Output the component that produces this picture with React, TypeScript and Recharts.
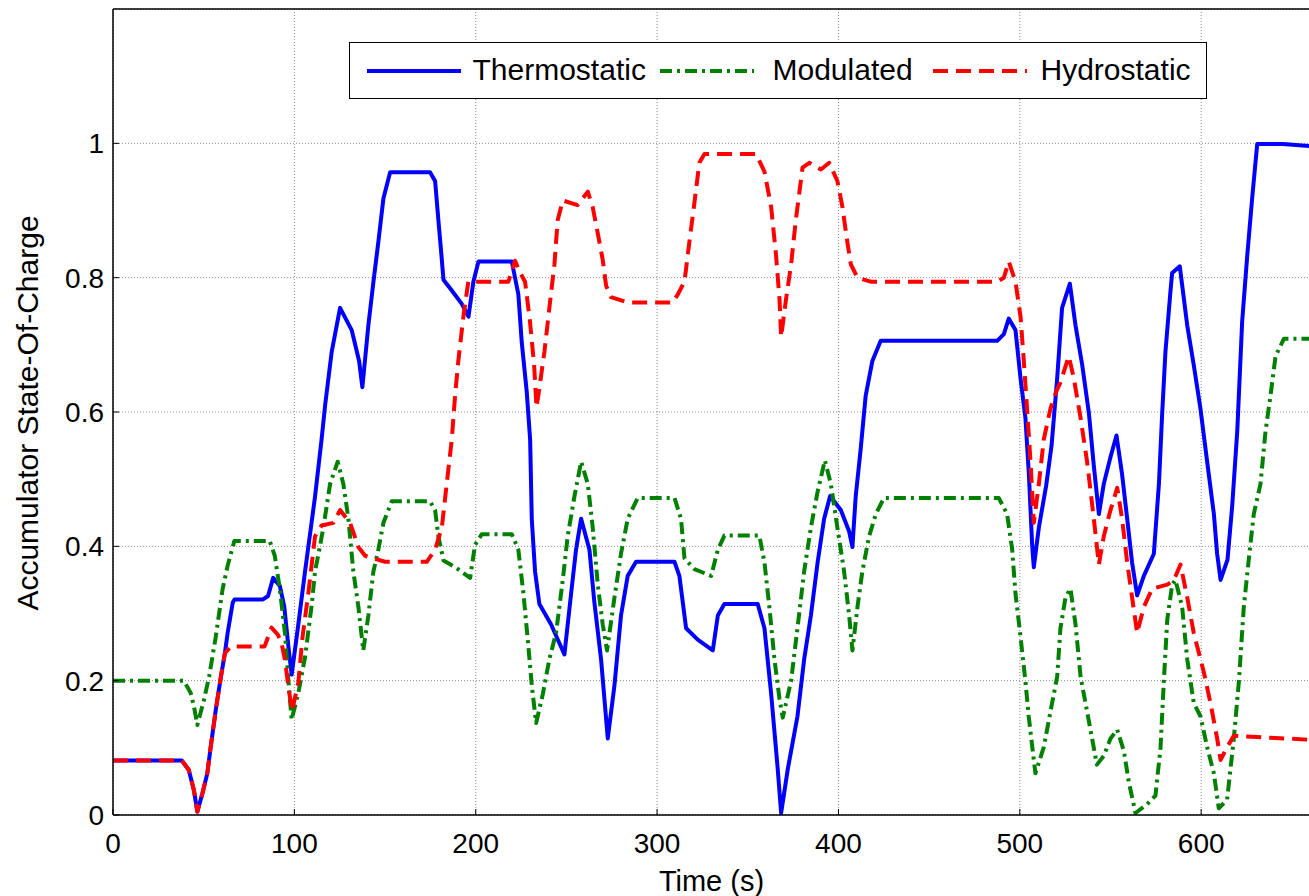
import React from "react";
import {
  LineChart,
  Line,
  XAxis,
  YAxis,
  CartesianGrid,
} from "recharts";

// time (s), accumulator state-of-charge
const thermostatic: [number, number][] = [
  [0, 0.081], [38, 0.081], [41.8, 0.067], [44.6, 0.037], [46.5, 0.005], [49.3, 0.032],
  [52, 0.062], [53.9, 0.102], [56.7, 0.157], [59.5, 0.206], [61.7, 0.241], [63.2, 0.271],
  [66, 0.316], [67, 0.321], [82.7, 0.321], [85.5, 0.326], [88.3, 0.353], [92, 0.341],
  [94.4, 0.311], [96.7, 0.251], [98.5, 0.209], [102, 0.28], [105.9, 0.363], [111.4, 0.474],
  [115, 0.559], [117, 0.611], [120.6, 0.69], [125.2, 0.755], [131.6, 0.722], [135.7, 0.676],
  [137.5, 0.637], [140.8, 0.729], [143.6, 0.794], [146.3, 0.853], [149.1, 0.918], [152.8, 0.957],
  [174.8, 0.957], [177.6, 0.944], [179.4, 0.886], [181.3, 0.827], [182.2, 0.797], [186.8, 0.781],
  [192.3, 0.761], [196, 0.742], [198.7, 0.794], [201.5, 0.824], [219.9, 0.824], [223.5, 0.775],
  [225.4, 0.703], [228.1, 0.631], [230, 0.559], [230.9, 0.441], [232.7, 0.363], [235.1, 0.314],
  [241.5, 0.284], [248.9, 0.239], [252.6, 0.33], [255.3, 0.395], [258.1, 0.441], [262.7, 0.395],
  [265.4, 0.317], [269.1, 0.232], [272.8, 0.114], [276.5, 0.193], [280.1, 0.297], [283.8, 0.356],
  [288.4, 0.377], [309.6, 0.377], [312.3, 0.356], [316, 0.278], [322.4, 0.261], [330.7, 0.245],
  [333.5, 0.297], [337.1, 0.314], [355.5, 0.314], [359.2, 0.278], [362.9, 0.18], [366.5, 0.069],
  [368.4, 0.003], [372.1, 0.069], [377.4, 0.147], [381.1, 0.232], [384.8, 0.297], [388.5, 0.376],
  [392.1, 0.441], [395.4, 0.475], [401.3, 0.454], [405.9, 0.422], [407.7, 0.399], [409.5, 0.474],
  [412.3, 0.546], [415, 0.624], [418.7, 0.676], [423.3, 0.706], [487.5, 0.706], [491.2, 0.716],
  [493.9, 0.739], [497.6, 0.722], [500.4, 0.65], [503.1, 0.591], [505, 0.507], [506.8, 0.402],
  [507.7, 0.369], [510.5, 0.428], [514.5, 0.49], [517.5, 0.55], [520.6, 0.65], [523.3, 0.755],
  [527.6, 0.791], [530.7, 0.729], [534.4, 0.67], [538.1, 0.598], [540.8, 0.52], [543.6, 0.448],
  [546.3, 0.493], [550, 0.533], [553.3, 0.565], [556.4, 0.507], [559.2, 0.441], [561.9, 0.376],
  [564.7, 0.327], [568.4, 0.356], [573.9, 0.389], [576.7, 0.493], [578.5, 0.598], [580.3, 0.69],
  [583.1, 0.781], [584, 0.807], [588.2, 0.817], [592.3, 0.729], [595.9, 0.67], [599.6, 0.605],
  [603.3, 0.526], [607, 0.448], [608.8, 0.389], [610.7, 0.35], [614.5, 0.38], [617.1, 0.46],
  [619.9, 0.572], [622.6, 0.735], [625.4, 0.833], [628.1, 0.918], [630.9, 0.999], [645, 0.999],
  [660, 0.996],
];

const modulated: [number, number][] = [
  [0, 0.2], [39, 0.2], [42.8, 0.182], [44.6, 0.162], [46.5, 0.134], [50.2, 0.172], [53, 0.206],
  [56.7, 0.266], [60.4, 0.336], [63.2, 0.371], [66.9, 0.408], [86.4, 0.408], [89.2, 0.386],
  [92, 0.336], [94.8, 0.271], [96.7, 0.2], [98.5, 0.142], [102.2, 0.182], [105.9, 0.235],
  [109.7, 0.316], [111.4, 0.363], [113.4, 0.39], [116, 0.428], [119.7, 0.493], [123.9, 0.526],
  [127, 0.493], [129.8, 0.441], [132.5, 0.363], [135.3, 0.31], [138, 0.245], [140.8, 0.297],
  [143.6, 0.363], [146.3, 0.395], [149.1, 0.435], [153.7, 0.467], [174.8, 0.467], [177.6, 0.454],
  [179.4, 0.415], [182.2, 0.379], [188.6, 0.369], [196.9, 0.353], [199.6, 0.402], [203.3, 0.418],
  [219.9, 0.418], [223.5, 0.395], [226.3, 0.33], [229, 0.252], [230.9, 0.193], [233.3, 0.137],
  [237, 0.18], [240.6, 0.232], [244.3, 0.271], [248, 0.35], [250.7, 0.415], [254.4, 0.474],
  [258.1, 0.526], [261.8, 0.493], [264.5, 0.428], [267.3, 0.343], [270, 0.284], [272.4, 0.245],
  [276.5, 0.324], [280.1, 0.389], [283.8, 0.441], [289.3, 0.472], [309.6, 0.472], [313.2, 0.441],
  [315.1, 0.382], [320.6, 0.366], [329.8, 0.356], [333.5, 0.395], [337.1, 0.416], [356.4, 0.416],
  [359.2, 0.376], [361.9, 0.31], [364.7, 0.232], [367.5, 0.173], [369.3, 0.145], [373.9, 0.2],
  [377.4, 0.278], [381.1, 0.363], [384.8, 0.428], [388.4, 0.48], [392.5, 0.528], [395.8, 0.493],
  [399.4, 0.428], [403.1, 0.363], [405.9, 0.297], [407.7, 0.245], [410.5, 0.31], [413.2, 0.363],
  [416.9, 0.415], [420.6, 0.448], [425.1, 0.472], [488.4, 0.472], [493, 0.448], [495.8, 0.395],
  [497.6, 0.33], [500.4, 0.265], [503.1, 0.199], [504.9, 0.147], [507.7, 0.082], [508.6, 0.062],
  [513.2, 0.101], [516.9, 0.154], [520.6, 0.206], [522.4, 0.278], [525.2, 0.324], [527.9, 0.337],
  [530.7, 0.284], [533.5, 0.206], [537.1, 0.154], [542.5, 0.075], [546.3, 0.088], [550, 0.114],
  [553.7, 0.127], [557.4, 0.095], [560.1, 0.049], [563.8, 0.003], [570.2, 0.016], [574.8, 0.029],
  [577.6, 0.101], [579.4, 0.199], [581.3, 0.291], [584, 0.343], [585.8, 0.35], [589.5, 0.31],
  [592.3, 0.232], [595.9, 0.167], [599.6, 0.147], [603.3, 0.101], [607, 0.062], [609.7, 0.01],
  [614.3, 0.023], [618, 0.114], [620.8, 0.199], [623.5, 0.31], [626.3, 0.382], [629, 0.448],
  [632.7, 0.493], [635.5, 0.572], [638.2, 0.624], [641, 0.683], [645.6, 0.709], [660, 0.709],
];

const hydrostatic: [number, number][] = [
  [0, 0.081], [38, 0.081], [41.8, 0.067], [44.6, 0.037], [46.5, 0.005], [49.3, 0.032], [52, 0.062],
  [53.9, 0.102], [56.7, 0.157], [59.5, 0.206], [61.7, 0.241], [65, 0.251], [83.6, 0.251],
  [87.4, 0.279], [91, 0.268], [93, 0.255], [94.8, 0.231], [96.7, 0.191], [98.7, 0.155],
  [102.2, 0.197], [104.5, 0.265], [107.7, 0.33], [111.4, 0.415], [115, 0.431], [121.5, 0.435],
  [125.2, 0.454], [130.7, 0.435], [135.3, 0.399], [139, 0.386], [150, 0.377], [173, 0.377],
  [177.6, 0.395], [181.3, 0.428], [184, 0.493], [186.8, 0.559], [188.6, 0.624], [190.4, 0.676],
  [193.2, 0.742], [195.9, 0.794], [218, 0.794], [221.7, 0.825], [224, 0.81], [227.2, 0.794],
  [229.9, 0.735], [232.2, 0.67], [233.5, 0.607], [234.8, 0.63], [237.9, 0.69], [240.6, 0.755],
  [243.4, 0.82], [245.2, 0.886], [248, 0.915], [256.2, 0.908], [261.8, 0.928], [264.5, 0.905],
  [267.3, 0.866], [270, 0.827], [271.9, 0.788], [274.6, 0.771], [283.8, 0.763], [308.6, 0.763],
  [311.4, 0.775], [315.1, 0.794], [317.8, 0.853], [320.6, 0.912], [323.3, 0.971], [326.1, 0.984],
  [354.6, 0.984], [359.2, 0.958], [362.9, 0.905], [365.6, 0.833], [367.5, 0.768], [368.4, 0.712],
  [371.1, 0.768], [373.9, 0.82], [376.5, 0.886], [380.2, 0.964], [383.9, 0.971], [390.3, 0.961],
  [394.9, 0.971], [399.4, 0.944], [402.2, 0.905], [404.9, 0.853], [406.8, 0.82], [410.5, 0.8],
  [417.8, 0.794], [487.5, 0.794], [491.2, 0.8], [493.9, 0.824], [497.6, 0.794], [500.4, 0.742],
  [502.2, 0.676], [504, 0.605], [505.9, 0.526], [507.7, 0.435], [510.5, 0.493], [513.2, 0.559],
  [516.9, 0.605], [520, 0.63], [522.4, 0.644], [527, 0.683], [529.8, 0.65], [533.5, 0.591],
  [537.1, 0.526], [540.8, 0.441], [543.6, 0.373], [546.3, 0.415], [550, 0.454], [553.7, 0.487],
  [556.4, 0.441], [559.2, 0.376], [561.9, 0.324], [564.7, 0.271], [568.4, 0.31], [573, 0.337],
  [581.3, 0.343], [585, 0.35], [588.6, 0.373], [592.3, 0.324], [595.9, 0.271], [601.5, 0.212],
  [605.1, 0.167], [608.8, 0.114], [610.7, 0.082], [614.3, 0.101], [618, 0.118], [630.9, 0.116],
  [660, 0.112],
];

const xTicks = [0, 100, 200, 300, 400, 500, 600];
const yTicks = [0, 0.2, 0.4, 0.6, 0.8, 1];

const toRows = (pts: [number, number][]) => pts.map(([t, soc]) => ({ t, soc }));

const FONT = '"Liberation Sans", Arial, Helvetica, sans-serif';

const series = [
  { name: "Thermostatic", color: "#0000ff", dash: undefined, data: toRows(thermostatic) },
  { name: "Modulated", color: "#008000", dash: "12 5 3 5", data: toRows(modulated) },
  { name: "Hydrostatic", color: "#ff0000", dash: "15 8", data: toRows(hydrostatic) },
];

// legend entries are placed like the matlab legend box
const legendSlots = [
  { line: 18, text: 124 },
  { line: 311, text: 424 },
  { line: 584, text: 692 },
];

const App: React.FC = () => {
  const tickStyle = { fontSize: 28, fill: "#000", fontFamily: FONT };
  const axisLine = { stroke: "#000", strokeWidth: 1.5 };

  return (
    <div
      style={{
        position: "absolute",
        left: 0,
        top: 0,
        width: 1309,
        height: 896,
        overflow: "hidden",
        background: "#fff",
        fontFamily: FONT,
      }}
    >
      <LineChart width={1312} height={896} margin={{ top: 8, right: 1, bottom: 0, left: 0 }}>
        <CartesianGrid stroke="#8a8a8a" strokeDasharray="1 2" />
        <XAxis
          dataKey="t"
          type="number"
          domain={[0, 660]}
          ticks={xTicks}
          allowDataOverflow
          height={81}
          tick={tickStyle}
          tickSize={-6}
          tickMargin={24}
          axisLine={axisLine}
          tickLine={{ stroke: "#000" }}
          label={{
            value: "Time (s)",
            position: "insideBottom",
            offset: 5,
            style: { fontSize: 29, fill: "#000", fontFamily: FONT },
          }}
        />
        <XAxis
          xAxisId="top"
          orientation="top"
          dataKey="t"
          type="number"
          domain={[0, 660]}
          ticks={xTicks}
          height={1}
          tick={false}
          tickSize={-6}
          axisLine={axisLine}
          tickLine={{ stroke: "#000" }}
        />
        <YAxis
          type="number"
          domain={[0, 1.2]}
          ticks={yTicks}
          allowDataOverflow
          width={113}
          tick={tickStyle}
          tickSize={-6}
          tickMargin={15}
          tickFormatter={(v: number) => String(v)}
          axisLine={axisLine}
          tickLine={{ stroke: "#000" }}
        />
        <YAxis
          yAxisId="right"
          orientation="right"
          type="number"
          domain={[0, 1.2]}
          ticks={yTicks}
          width={1}
          tick={false}
          tickSize={-6}
          axisLine={axisLine}
          tickLine={{ stroke: "#000" }}
        />
        {series.map((s) => (
          <Line
            key={s.name}
            data={s.data}
            dataKey="soc"
            name={s.name}
            type="linear"
            stroke={s.color}
            strokeWidth={4}
            strokeDasharray={s.dash}
            strokeLinejoin="round"
            dot={false}
            activeDot={false}
            isAnimationActive={false}
          />
        ))}
      </LineChart>

      {/* y-axis title */}
      <div
        style={{
          position: "absolute",
          left: 28,
          top: 413,
          transform: "translate(-50%, -50%) rotate(-90deg)",
          whiteSpace: "nowrap",
          fontSize: 30,
          color: "#000",
        }}
      >
        Accumulator State-Of-Charge
      </div>

      {/* legend */}
      <div
        style={{
          position: "absolute",
          left: 349,
          top: 42,
          width: 858,
          height: 57,
          boxSizing: "border-box",
          border: "1.5px solid #000",
          background: "#fff",
        }}
      >
        {series.map((s, i) => (
          <React.Fragment key={s.name}>
            <svg
              width={94}
              height={8}
              style={{ position: "absolute", left: legendSlots[i].line - 1.5, top: 24 }}
            >
              <line
                x1={0}
                x2={94}
                y1={4}
                y2={4}
                stroke={s.color}
                strokeWidth={4}
                strokeDasharray={s.dash}
              />
            </svg>
            <span
              style={{
                position: "absolute",
                left: legendSlots[i].text - 1.5,
                top: 9,
                fontSize: 30,
                lineHeight: "36px",
                color: "#000",
                whiteSpace: "nowrap",
              }}
            >
              {s.name}
            </span>
          </React.Fragment>
        ))}
      </div>
    </div>
  );
};

export default App;
